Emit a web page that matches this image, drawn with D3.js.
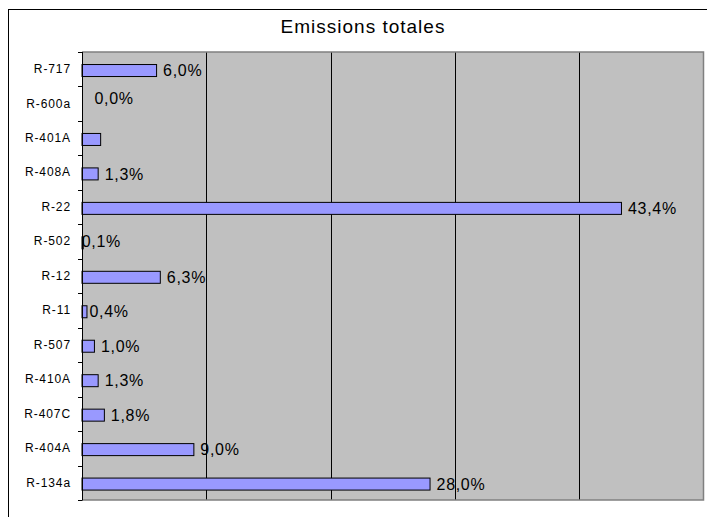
<!DOCTYPE html>
<html>
<head>
<meta charset="utf-8">
<script src="https://cdn.jsdelivr.net/npm/d3@7"></script>
<style>
  html, body { margin: 0; padding: 0; background: #fff; }
  svg { display: block; font-family: "Liberation Sans", Arial, sans-serif; }
</style>
</head>
<body>
<svg id="chart" width="707" height="517"></svg>
<script>
// Refrigerant share of total emissions (%)
const title = "Emissions totales";
const categories = ["R-717", "R-600a", "R-401A", "R-408A", "R-22", "R-502", "R-12",
                    "R-11", "R-507", "R-410A", "R-407C", "R-404A", "R-134a"];
const values = [6.0, 0.0, 1.5, 1.3, 43.4, 0.1, 6.3, 0.4, 1.0, 1.3, 1.8, 9.0, 28.0];
const hiddenLabels = ["R-401A"];
const gridTicks = [10, 20, 30, 40];

// Layout
const plot = { left: 82, top: 52, right: 703.5, bottom: 500 };
const svg = d3.select("#chart");

// French number format: decimal comma
const fr = d3.formatLocale({ decimal: ",", thousands: " ", grouping: [3], currency: ["", " €"] });
const fmt = v => fr.format(".1f")(v) + "%";

const x = d3.scaleLinear().domain([0, 50]).range([plot.left, plot.right]);
const y = d3.scaleBand().domain(categories).range([plot.top, plot.bottom]).padding(0);
const bw = y.bandwidth();
const barH = 12;
const barOffset = (bw - barH) / 2 + 1.3;

// Chart frame
svg.append("rect")
  .attr("x", 8.5).attr("y", 9.5).attr("width", 720).attr("height", 530)
  .attr("fill", "#fff").attr("stroke", "#000").attr("stroke-width", 1);

// Title
svg.append("text")
  .attr("x", 363).attr("y", 32.7)
  .attr("text-anchor", "middle")
  .attr("font-size", 19).attr("letter-spacing", "1px")
  .attr("fill", "#000")
  .text(title);

// Plot background
svg.append("rect")
  .attr("x", plot.left).attr("y", plot.top)
  .attr("width", plot.right - plot.left).attr("height", plot.bottom - plot.top)
  .attr("fill", "#c0c0c0");

// Vertical gridlines
svg.append("g")
  .attr("transform", `translate(0,${plot.bottom})`)
  .call(d3.axisBottom(x).tickValues(gridTicks).tickSize(-(plot.bottom - plot.top)).tickFormat(""))
  .call(g => g.select(".domain").remove())
  .call(g => g.selectAll(".tick line").attr("stroke", "#000").attr("stroke-width", 1)
    .attr("shape-rendering", "crispEdges"));

// Plot border (top, right, bottom)
svg.append("path")
  .attr("d", `M${plot.left},${plot.top}H${plot.right}V${plot.bottom}H${plot.left}`)
  .attr("fill", "none").attr("stroke", "#808080").attr("stroke-width", 1.5);

// Bars
svg.append("g")
  .selectAll("rect")
  .data(categories.map((c, i) => ({ c, v: values[i] })).filter(d => d.v > 0))
  .join("rect")
  .attr("x", x(0))
  .attr("y", d => y(d.c) + barOffset)
  .attr("width", d => x(d.v) - x(0))
  .attr("height", barH)
  .attr("fill", "#9999ff")
  .attr("stroke", "#000")
  .attr("stroke-width", 1);

// Category axis: labels centred in each band, tick marks on band boundaries
svg.append("g")
  .attr("transform", `translate(${plot.left},0)`)
  .call(d3.axisLeft(y).tickSize(0).tickPadding(11))
  .call(g => g.select(".domain").remove())
  .call(g => g.selectAll(".tick text")
    .attr("font-family", "\"Liberation Sans\", Arial, sans-serif")
    .attr("font-size", 12).attr("letter-spacing", "0.9px").attr("fill", "#000"));

const boundaries = categories.map(c => y(c)).concat([y(categories[categories.length - 1]) + bw]);
svg.append("g")
  .selectAll("line")
  .data(boundaries)
  .join("line")
  .attr("x1", plot.left - 4).attr("x2", plot.left)
  .attr("y1", d => Math.round(d) + 0.5).attr("y2", d => Math.round(d) + 0.5)
  .attr("stroke", "#000");

svg.append("line")
  .attr("x1", plot.left + 0.5).attr("x2", plot.left + 0.5)
  .attr("y1", plot.top).attr("y2", plot.bottom + 0.5)
  .attr("stroke", "#000");

// Value labels at the end of each bar
const labelNudge = { "R-600a": { dx: 6, dy: -7 }, "R-502": { dx: -8, dy: -1 }, "R-11": { dx: -4, dy: 0 } };
svg.append("g")
  .selectAll("text")
  .data(categories.map((c, i) => ({ c, v: values[i] })).filter(d => !hiddenLabels.includes(d.c)))
  .join("text")
  .attr("x", d => x(d.v) + 6.5 + (labelNudge[d.c] ? labelNudge[d.c].dx : 0))
  .attr("y", d => y(d.c) + barOffset + barH / 2 + 5.6 + (labelNudge[d.c] ? labelNudge[d.c].dy : 0))
  .attr("font-size", 16).attr("letter-spacing", "0.7px")
  .attr("fill", "#000")
  .text(d => fmt(d.v));
</script>
</body>
</html>
